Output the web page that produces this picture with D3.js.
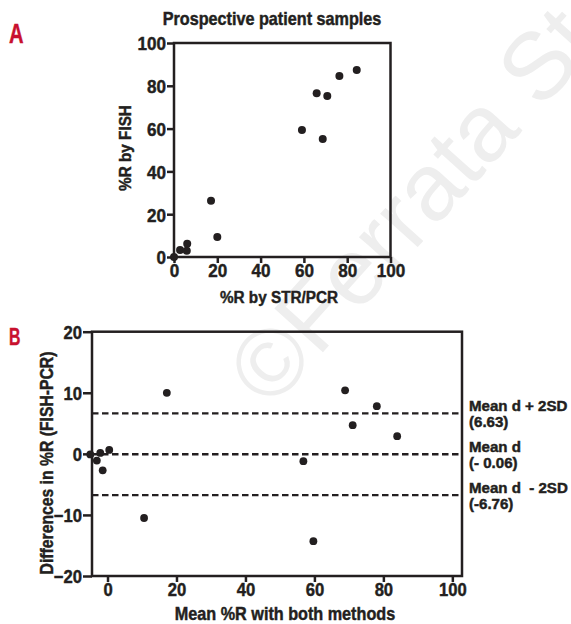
<!DOCTYPE html>
<html>
<head>
<meta charset="utf-8">
<script src="https://cdn.jsdelivr.net/npm/d3@7/dist/d3.min.js"></script>
<style>
  html, body { margin: 0; padding: 0; background: #fff; }
  svg text { font-family: 'Liberation Sans', Arial, Helvetica, sans-serif; font-weight: bold; fill: #231f20; }
</style>
</head>
<body>
<script>
// ---------- DATA ----------
// Panel A: %R by STR/PCR (x) vs %R by FISH (y)
const pcrValues  = [0, 2.8, 5.9, 6.1, 17.1, 20.0, 59.1, 65.9, 70.8, 68.7, 76.4, 84.4];
const fishValues = [0, 3.3, 2.9, 6.2, 26.3, 9.3, 59.3, 76.5, 75.2, 55.1, 84.6, 87.4];
const ticksA = [0, 20, 40, 60, 80, 100];

// Panel B: Bland-Altman (mean of methods vs difference FISH-PCR)
const meanValues = [-5.0, -3.1, -2.1, -1.4, 0.5, 10.6, 17.2, 56.8, 59.7, 68.9, 78.1, 71.1, 84.0];
const diffValues = [-0.1, -1.1, 0.15, -2.7, 0.65, -10.5, 10.0, -1.2, -14.3, 10.4, 7.8, 4.7, 2.9];
const ticksBx = [0, 20, 40, 60, 80, 100];
const ticksBy = [-20, -10, 0, 10, 20];
const limitValues = [6.63, -0.06, -6.76];
const limitNames = ["Mean d + 2SD", "Mean d", "Mean d  - 2SD"];
const limitTexts = ["(6.63)", "(- 0.06)", "(-6.76)"];

// ---------- SVG ----------
const W = 571, H = 624;
const svg = d3.select("body").append("svg").attr("width", W).attr("height", H);
const ink = "#231f20";
const lw = 2.5;
const SX = 0.9; // horizontal condensing of the bold sans face
const TSW = 0.45; // extra stroke to mimic the heavy face

function label(x, y, str, size, opts = {}) {
  const rot = opts.rotate ? ` rotate(${opts.rotate})` : "";
  const sx = opts.sx || SX;
  const col = opts.fill || ink;
  return svg.append("text")
    .attr("transform", `translate(${x},${y})${rot} scale(${sx},1)`)
    .attr("text-anchor", opts.anchor || "start")
    .style("font-size", size + "px")
    .style("fill", col)
    .style("stroke", col)
    .style("stroke-width", TSW)
    .style("white-space", "pre")
    .text(str);
}

// watermark
svg.append("text")
  .attr("transform", "translate(271,410) rotate(-48)")
  .style("font-weight", "normal")
  .style("font-size", "95px")
  .style("fill", "#eeeeee")
  .text("\u00A9Ferrata Storti");

// ---------- PANEL A ----------
const xA = d3.scaleLinear().domain([0, 100]).range([174, 390.5]);
const yA = d3.scaleLinear().domain([0, 100]).range([257, 43]);

label(9, 43, "A", 28, {sx: 0.72, fill: "#c8102e"});
label(272, 25, "Prospective patient samples", 18, {anchor: "middle"});

const gA = svg.append("g");
gA.append("rect").attr("x", xA(0)).attr("y", yA(100))
  .attr("width", xA(100) - xA(0)).attr("height", yA(0) - yA(100))
  .attr("fill", "none").attr("stroke", ink).attr("stroke-width", lw);

const axA_x = d3.axisBottom(xA).tickValues(ticksA).tickSize(6).tickPadding(1).tickFormat(d3.format("d"));
const axA_y = d3.axisLeft(yA).tickValues(ticksA).tickSize(7).tickPadding(1).tickFormat(d3.format("d"));
const gax = gA.append("g").attr("transform", `translate(0,${yA(0)})`).call(axA_x);
const gay = gA.append("g").attr("transform", `translate(${xA(0)},0)`).call(axA_y);
[gax, gay].forEach(g => {
  g.select(".domain").remove();
  g.selectAll("line").attr("stroke", ink).attr("stroke-width", lw);
  g.selectAll("text").style("font-size", "19px").style("font-family", null).attr("fill", ink)
    .style("stroke", ink).style("stroke-width", TSW)
    .attr("transform", `scale(${SX},1)`);
});
gay.selectAll("text").attr("dy", "0.36em").attr("x", -8 / SX);

label(279, 303, "%R by STR/PCR", 17, {anchor: "middle"});
label(131, 148, "%R by FISH", 17, {anchor: "middle", rotate: -90});

gA.selectAll("circle").data(pcrValues).enter().append("circle")
  .attr("cx", d => xA(d)).attr("cy", (d, i) => yA(fishValues[i]))
  .attr("r", 4).attr("fill", ink);

// ---------- PANEL B ----------
const xB = d3.scaleLinear().domain([-4.5, 102.8]).range([92, 462]);
const yB = d3.scaleLinear().domain([-20, 20]).range([576, 331.7]);

label(9, 345, "B", 24, {sx: 0.66, fill: "#c8102e"});

const gB = svg.append("g");
gB.append("rect").attr("x", xB.range()[0]).attr("y", yB(20))
  .attr("width", xB.range()[1] - xB.range()[0]).attr("height", yB(-20) - yB(20))
  .attr("fill", "none").attr("stroke", ink).attr("stroke-width", lw);

const axB_x = d3.axisBottom(xB).tickValues(ticksBx).tickSize(6).tickPadding(1).tickFormat(d3.format("d"));
const axB_y = d3.axisLeft(yB).tickValues(ticksBy).tickSize(9).tickPadding(1).tickFormat(d3.format("d"));
const gbx = gB.append("g").attr("transform", `translate(0,${yB(-20)})`).call(axB_x);
const gby = gB.append("g").attr("transform", `translate(${xB.range()[0]},0)`).call(axB_y);
[gbx, gby].forEach(g => {
  g.select(".domain").remove();
  g.selectAll("line").attr("stroke", ink).attr("stroke-width", lw);
  g.selectAll("text").style("font-size", "18.5px").style("font-family", null).attr("fill", ink)
    .style("stroke", ink).style("stroke-width", TSW)
    .attr("transform", `scale(${SX},1)`);
});
gby.selectAll("text").attr("dy", "0.36em").attr("x", -10 / SX);

// limit lines
gB.selectAll("line.lim").data(limitValues).enter().append("line").attr("class", "lim")
  .attr("x1", xB.range()[0]).attr("x2", xB.range()[1])
  .attr("y1", d => yB(d)).attr("y2", d => yB(d))
  .attr("stroke", ink).attr("stroke-width", 2.4).attr("stroke-dasharray", "6.5,3.5");

// limit labels (two lines each)
limitValues.forEach((v, i) => {
  label(469, yB(v) - 2.5, limitNames[i], 14.5, {sx: 1.04});
  label(469, yB(v) + 14, limitTexts[i], 14.5, {sx: 1.04});
});

gB.selectAll("circle").data(meanValues).enter().append("circle")
  .attr("cx", d => xB(d)).attr("cy", (d, i) => yB(diffValues[i]))
  .attr("r", 3.9).attr("fill", ink);

label(285, 620, "Mean %R with both methods", 18, {anchor: "middle"});
label(53, 463, "Differences in %R (FISH-PCR)", 17.5, {anchor: "middle", rotate: -90});
</script>
</body>
</html>
